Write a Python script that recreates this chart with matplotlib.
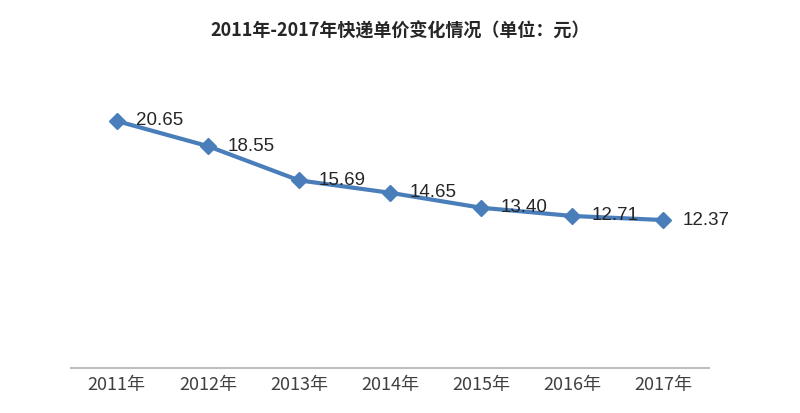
import matplotlib
matplotlib.use("Agg")
import matplotlib.pyplot as plt

plt.rcParams['font.family'] = ['Noto Sans CJK SC', 'DejaVu Sans']

# data
years = ["2011年", "2012年", "2013年", "2014年", "2015年", "2016年", "2017年"]
prices = [20.65, 18.55, 15.69, 14.65, 13.40, 12.71, 12.37]

line_color = "#4A7EBB"

fig = plt.figure(figsize=(8, 4.13), dpi=100)
ax = fig.add_axes([0.089, 0.109, 0.797, 0.724])

x = list(range(len(years)))
ax.plot(x, prices, color=line_color, linewidth=3,
        marker="D", markersize=8, markerfacecolor=line_color,
        markeredgecolor=line_color, zorder=3)

# data labels
for xi, v in zip(x, prices):
    ax.annotate(f"{v:.2f}", (xi, v), xytext=(14, 0), textcoords="offset points",
                ha="left", va="center", fontsize=13.5, color="#262626",
                family=["Liberation Sans", "DejaVu Sans"], zorder=4)

ax.set_xlim(-0.5, len(years) - 0.5)
ax.set_ylim(0, 25)
ax.set_xticks(x)
ax.set_xticklabels(years, fontsize=13, color="#404040")
ax.tick_params(axis="x", length=0, pad=6)
ax.set_yticks([])

for side in ["top", "right", "left"]:
    ax.spines[side].set_visible(False)
ax.spines["bottom"].set_color("#BFBFBF")
ax.spines["bottom"].set_linewidth(1.5)

fig.text(0.5, 0.925, "2011年-2017年快递单价变化情况（单位：元）",
         ha="center", va="center", fontsize=13, fontweight="bold", color="#262626")

fig.savefig("out.png", dpi=100, facecolor="white")
